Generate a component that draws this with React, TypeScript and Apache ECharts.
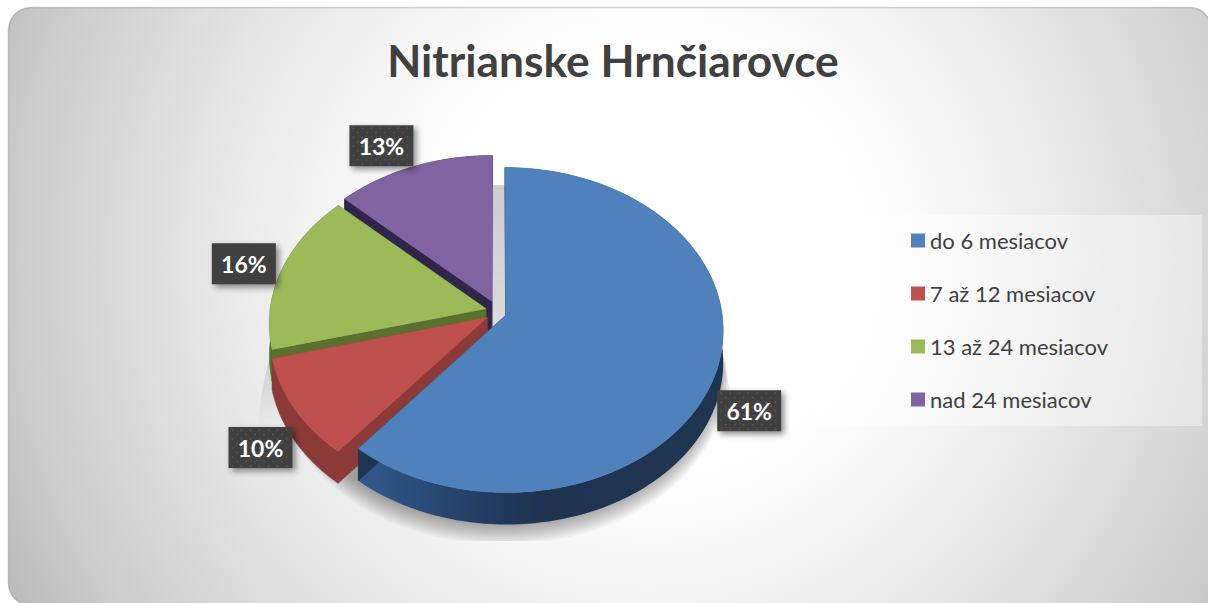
import React, { useEffect, useRef } from "react";
import * as echarts from "echarts";

const titleText = "Nitrianske Hrnčiarovce";
const categories = ["do 6 mesiacov", "7 až 12 mesiacov", "13 až 24 mesiacov", "nad 24 mesiacov"];
const values = [61, 10, 16, 13];
const topColors = ["#4F81BD", "#C0504D", "#9BBB59", "#8064A2"];
const wallColors = ["#1E3552", "#8C3A37", "#59702F", "#30254A"];
const labelOffsets = [[33, 39], [-34, 39], [-38, -6], [-32, -21]];

const FONT = "Lato";
const CX = 496, CY = 311.5, RX = 216, RY = 160.5, K = 0.09, EX = 0.048, EY = 0.07, DEPTH = 32;
const total = values.reduce((a, b) => a + b, 0);

function project(u: number, v: number): [number, number] {
  const w = 1 / (1 - K * v);
  return [CX + RX * u * w, CY + RY * v * w];
}
function sliceRange(i: number) {
  const before = values.slice(0, i).reduce((a, b) => a + b, 0);
  const a0 = (before / total) * Math.PI * 2;
  const a1 = ((before + values[i]) / total) * Math.PI * 2;
  return { a0, a1, mid: (a0 + a1) / 2 };
}
function rimPoint(i: number, a: number, r = 1): [number, number] {
  const { mid } = sliceRange(i);
  return project(r * Math.sin(a) + EX * Math.sin(mid), -r * Math.cos(a) - EY * Math.cos(mid));
}
function apex(i: number) {
  return rimPoint(i, 0, 0);
}
function rim(i: number): [number, number][] {
  const { a0, a1 } = sliceRange(i);
  const n = Math.max(8, Math.round((a1 - a0) / 0.03));
  const pts: [number, number][] = [];
  for (let k = 0; k <= n; k++) pts.push(rimPoint(i, a0 + ((a1 - a0) * k) / n));
  return pts;
}
const down = (p: [number, number]): [number, number] => [p[0], p[1] + DEPTH];
const poly = (points: [number, number][], fill: any, z2 = 0) => ({
  type: "polygon",
  shape: { points },
  z2,
  style: { fill, stroke: typeof fill === "string" ? fill : undefined, lineWidth: 0.5 },
});

function wallFill(i: number) {
  if (i === 0)
    return {
      type: "linear", x: 0, y: 0, x2: 1, y2: 0,
      colorStops: [
        { offset: 0, color: "#305A8C" },
        { offset: 0.28, color: "#25426A" },
        { offset: 0.5, color: "#1D3350" },
        { offset: 1, color: "#1F3652" },
      ],
    };
  return wallColors[i];
}

function renderSlice(i: number) {
  const r = rim(i);
  const c = apex(i);
  const first = r[0];
  const last = r[r.length - 1];
  const dots: any[] = [];
  const [ox, oy] = rimPoint(i, sliceRange(i).mid);
  const lx = ox + labelOffsets[i][0];
  const ly = oy + labelOffsets[i][1];
  const bw = 64, bh = 41;
  for (let row = 0; row < 9; row++) {
    for (let col = 0; col < 8; col++) {
      const dx = 4 + col * 9 + (row % 2 ? 4.5 : 0);
      const dy = 3 + row * 4.5;
      if (dx < bw - 2)
        dots.push({
          type: "circle",
          shape: { cx: lx - bw / 2 + dx, cy: ly - bh / 2 + dy, r: 0.8 },
          style: { fill: "#5A5A5A" },
          z2: 21,
        });
    }
  }
  return {
    type: "group",
    children: [
      poly([...r, ...r.slice().reverse().map(down)], wallFill(i), 1),
      poly([c, first, down(first), down(c)], wallColors[i], 1),
      poly([c, last, down(last), down(c)], wallColors[i], 1),
      poly([c, ...r], topColors[i], 2),
      {
        type: "rect",
        shape: { x: lx - bw / 2, y: ly - bh / 2, width: bw, height: bh },
        style: {
          fill: "#404040",
          shadowBlur: 6,
          shadowOffsetX: 3,
          shadowOffsetY: 3,
          shadowColor: "rgba(0,0,0,0.45)",
        },
        z2: 20,
      },
      ...dots,
      {
        type: "text",
        x: lx,
        y: ly,
        z2: 22,
        style: {
          text: values[i] + "%",
          fill: "#FFFFFF",
          font: `bold 23px ${FONT}`,
          align: "center",
          verticalAlign: "middle",
        },
      },
    ],
  };
}

function renderShadow() {
  const hard: [number, number][] = [];
  for (let k = 0; k < 180; k++) {
    const a = (k / 180) * Math.PI * 2;
    const p = project(1.045 * Math.sin(a), -1.4 * Math.cos(a) + 0.45);
    hard.push([p[0], Math.min(p[1] + 14, 541)]);
  }
  const children: any[] = [
    {
      type: "polygon",
      shape: { points: hard },
      z2: 0,
      style: {
        fill: {
          type: "linear", x: 0, y: 0, x2: 0, y2: 1,
          colorStops: [
            { offset: 0, color: "rgba(0,0,0,0.2)" },
            { offset: 0.5, color: "rgba(0,0,0,0.12)" },
            { offset: 0.68, color: "rgba(0,0,0,0)" },
            { offset: 1, color: "rgba(0,0,0,0)" },
          ],
        },
      },
    },
  ];
  const LAYERS = 12;
  for (let l = 0; l < LAYERS; l++) {
    const t = l / (LAYERS - 1);
    const pts: [number, number][] = [];
    for (let k = 0; k <= 90; k++) {
      const a = Math.PI / 2 + (k / 90) * Math.PI;
      const s = 1.0 + 0.035 * t;
      const q = project(s * Math.sin(a) + 0.03, -s * Math.cos(a) + 0.02);
      pts.push([q[0], Math.min(q[1] + DEPTH + 1 + 13 * t, 541)]);
    }
    children.push({
      type: "polygon",
      shape: { points: pts },
      z2: 0,
      style: { fill: "rgba(0,0,0,0.032)" },
    });
  }
  return { type: "group", children };
}

const sliceSeries = categories.map((name, i) => ({
  type: "custom",
  name,
  coordinateSystem: "none",
  z: 2 + (3 - i),
  silent: true,
  itemStyle: { color: topColors[i] },
  data: [[values[i]]],
  renderItem: () => renderSlice(i),
}));

export default function App() {
  const ref = useRef<HTMLDivElement>(null);
  useEffect(() => {
    const chart = echarts.init(ref.current!, undefined, { renderer: "svg" });
    chart.setOption({
      animation: false,
      backgroundColor: "#FFFFFF",
      title: {
        text: titleText,
        left: 608,
        top: 32,
        textAlign: "center",
        textStyle: { fontFamily: FONT, fontWeight: "bold", fontSize: 44.3, color: "#404040" },
      },
      legend: {
        data: categories,
        orient: "vertical",
        left: 816,
        top: 215,
        padding: [14.5, 94, 15.5, 95],
        itemWidth: 14,
        itemHeight: 14,
        itemGap: 31,
        icon: "rect",
        selectedMode: false,
        backgroundColor: "rgba(255,255,255,0.4)",
        textStyle: { fontFamily: FONT, fontSize: 22, color: "#404040", lineHeight: 14 },
      },
      graphic: [
        {
          type: "rect",
          z: -10,
          silent: true,
          shape: { x: 8.5, y: 7.5, width: 1202, height: 598, r: [22, 20, 0, 22] },
          style: {
            stroke: "rgba(0,0,0,0.16)",
            lineWidth: 1.5,
            fill: {
              type: "radial",
              x: 650,
              y: 260,
              r: 720,
              global: true,
              colorStops: [
                { offset: 0, color: "#FFFFFF" },
                { offset: 0.28, color: "#FFFFFF" },
                { offset: 0.45, color: "#F5F5F5" },
                { offset: 0.62, color: "#E6E6E6" },
                { offset: 0.8, color: "#D4D4D4" },
                { offset: 0.89, color: "#CBCBCB" },
                { offset: 1, color: "#BBBBBB" },
              ],
            },
          },
        },
      ],
      series: [
        {
          type: "custom",
          name: "shadow",
          coordinateSystem: "none",
          z: 1,
          silent: true,
          data: [[0]],
          renderItem: renderShadow,
        },
        ...sliceSeries,
      ],
    });
    return () => chart.dispose();
  }, []);
  return <div ref={ref} style={{ position: "fixed", left: 0, top: 0, width: 1208, height: 603 }} />;
}
